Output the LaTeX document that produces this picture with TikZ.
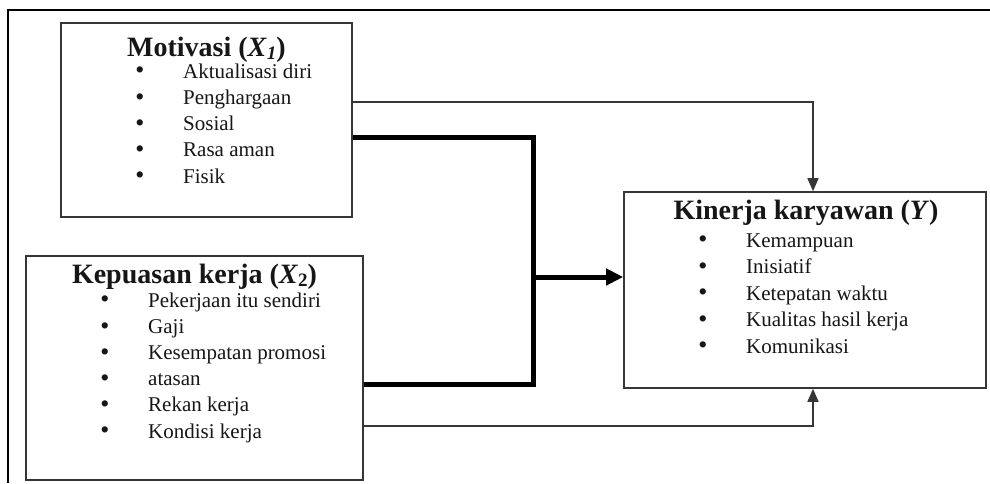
\documentclass[tikz,border=0pt]{standalone}
\usepackage{fontspec}
\setmainfont{Liberation Serif}
\usetikzlibrary{arrows.meta}
\definecolor{linegray}{HTML}{363636}
\definecolor{txt}{HTML}{161616}
\newcommand{\mysub}[1]{\raisebox{-3pt}{\fontsize{19}{20}\selectfont #1}}
\tikzset{
  box/.style={draw=linegray, line width=1.6pt, inner sep=0pt},
  ttl/.style={anchor=base, inner sep=0pt, text=txt, font=\fontsize{28}{32}\selectfont\bfseries},
  item/.style={anchor=base west, inner sep=0pt, text=txt, font=\fontsize{21}{25}\selectfont},
  bul/.style={anchor=center, inner sep=0pt, text=txt, font=\fontsize{23}{25}\selectfont\bfseries},
  thinarr/.style={draw=linegray, line width=1.6pt, line join=miter, -{Triangle[length=13pt,width=11pt]}},
  thickln/.style={draw=black, line width=5pt, line join=miter},
  thickarr/.style={draw=black, line width=5pt, -{Triangle[length=17pt,width=16pt]}},
  frame/.style={draw=black, line width=2pt}
}
\begin{document}
\begin{tikzpicture}[x=1pt,y=-1pt]
\useasboundingbox (0,0) rectangle (990,483);
\fill[white] (0,0) rectangle (990,483);
% outer frame (cropped)
\draw[frame] (8,483) -- (8,10) -- (990,10);

% boxes
\node[box, minimum width=291pt, minimum height=194pt] (mot) at (206.5,120) {};
\node[box, minimum width=337pt, minimum height=224pt] (kep) at (194.5,368) {};
\node[box, minimum width=362pt, minimum height=196pt] (kin) at (805,290) {};

% titles
\node[ttl] (motT) at (206.5,56) {Motivasi (\textit{X}\mysub{\textit{1}})};
\node[ttl] (kepT) at (194.5,283) {Kepuasan kerja (\textit{X}\mysub{2})};
\node[ttl] (kinT) at (806,219) {Kinerja karyawan (\textit{Y})};

% items
\foreach \t [count=\i] in {Aktualisasi diri, Penghargaan, Sosial, Rasa aman, Fisik} {
  \node[bul] (mb\i) at (140, {72.5+26.25*(\i-1)}) {•};
  \node[item] (mi\i) at (183, {78+26.25*(\i-1)}) {\t};
}
\foreach \t [count=\i] in {Pekerjaan itu sendiri, Gaji, Kesempatan promosi, atasan, Rekan kerja, Kondisi kerja} {
  \node[bul] (kb\i) at (105, {301.5+26.2*(\i-1)}) {•};
  \node[item] (ki\i) at (148, {307+26.2*(\i-1)}) {\t};
}
\foreach \t [count=\i] in {Kemampuan, Inisiatif, Ketepatan waktu, Kualitas hasil kerja, Komunikasi} {
  \node[bul] (yb\i) at (703, {241.5+26.5*(\i-1)}) {•};
  \node[item] (yi\i) at (746, {247+26.5*(\i-1)}) {\t};
}

% connectors
\coordinate (tA) at (813,102);
\coordinate (bA) at (813,426);
\coordinate (jT) at (533,137);
\coordinate (jB) at (533,384);
\coordinate (jM) at (533,277);

\draw[thinarr] (mot.east |- tA) -- (tA) -- (tA |- kin.north);
\draw[thinarr] (kep.east |- bA) -- (bA) -- (bA |- kin.south);
\draw[thickln] (mot.east |- jT) -- (jT) -- (jB) -- (kep.east |- jB);
\draw[thickarr] (jM) -- (jM -| kin.west);
\end{tikzpicture}
\end{document}
